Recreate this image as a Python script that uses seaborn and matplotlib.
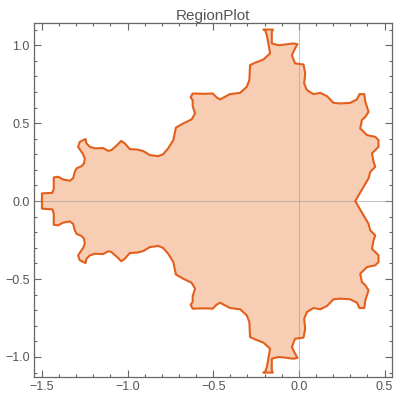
import numpy as np
import pandas as pd
import seaborn as sns
import matplotlib
matplotlib.use("Agg")
import matplotlib.pyplot as plt
from matplotlib.ticker import MultipleLocator

# obere Randkurve der Region, von der linken Spitze im Uhrzeigersinn bis y=0 rechts
x_upper = [-1.5, -1.5, -1.439, -1.431, -1.431, -1.406, -1.377, -1.337, -1.318, -1.308,
           -1.298, -1.269, -1.254, -1.250, -1.260, -1.289, -1.279, -1.252, -1.245, -1.240,
           -1.220, -1.191, -1.143, -1.113, -1.094, -1.061, -1.037, -1.016, -0.987, -0.947,
           -0.909, -0.870, -0.821, -0.792, -0.763, -0.733, -0.718, -0.675, -0.626, -0.606,
           -0.620, -0.620, -0.632, -0.620, -0.558, -0.503, -0.480, -0.460, -0.431, -0.402,
           -0.343, -0.304, -0.289, -0.285, -0.256, -0.207, -0.168, -0.178, -0.187, -0.197,
           -0.207, -0.152, -0.158, -0.158, -0.119, -0.080, -0.032, -0.008, -0.022, -0.041,
           -0.022, 0.027, 0.037, 0.031, 0.047, 0.085, 0.125, 0.164, 0.202, 0.242,
           0.300, 0.339, 0.354, 0.382, 0.388, 0.407, 0.388, 0.368, 0.358, 0.398,
           0.446, 0.465, 0.465, 0.427, 0.436, 0.446, 0.417, 0.407, 0.378, 0.349,
           0.329]
y_upper = [0.0, 0.049, 0.053, 0.081, 0.152, 0.156, 0.139, 0.130, 0.146, 0.188,
           0.210, 0.224, 0.242, 0.274, 0.301, 0.348, 0.380, 0.394, 0.398, 0.370,
           0.348, 0.338, 0.340, 0.322, 0.327, 0.359, 0.386, 0.370, 0.333, 0.331,
           0.321, 0.295, 0.288, 0.301, 0.338, 0.391, 0.471, 0.498, 0.524, 0.562,
           0.609, 0.647, 0.665, 0.690, 0.688, 0.690, 0.665, 0.652, 0.669, 0.686,
           0.694, 0.733, 0.776, 0.872, 0.887, 0.908, 0.947, 1.011, 1.064, 1.096,
           1.1, 1.1, 1.085, 1.011, 1.0, 1.004, 1.011, 1.006, 0.979, 0.936,
           0.883, 0.876, 0.819, 0.754, 0.712, 0.686, 0.694, 0.673, 0.630, 0.626,
           0.630, 0.652, 0.686, 0.686, 0.637, 0.572, 0.540, 0.519, 0.466, 0.423,
           0.412, 0.391, 0.348, 0.306, 0.252, 0.220, 0.188, 0.146, 0.092, 0.038,
           0.0]

# die Region ist spiegelsymmetrisch zur x-Achse
x_lower = x_upper[::-1][1:]
y_lower = [-v for v in y_upper[::-1]][1:]
df = pd.DataFrame({"x": x_upper + x_lower, "y": y_upper + y_lower})

sns.set_style("ticks")
plt.rcParams["font.family"] = ["Liberation Sans", "DejaVu Sans"]

fig = plt.figure(figsize=(3.96, 4.01), dpi=100)
ax = fig.add_axes([0.086, 0.060, 0.904, 0.883])

ax.fill(df["x"], df["y"], color="#F7CDB4", lw=0, zorder=1)
ax.axhline(0, color="#9a9a9a", lw=0.7, alpha=0.6, zorder=2)
ax.axvline(0, color="#9a9a9a", lw=0.7, alpha=0.6, zorder=2)
sns.lineplot(data=df, x="x", y="y", sort=False, estimator=None, color="#E35F1C",
             lw=1.5, ax=ax, zorder=3, solid_joinstyle="round", solid_capstyle="round")
# Kontur schliessen
ax.plot([df["x"].iloc[-1], df["x"].iloc[0]], [df["y"].iloc[-1], df["y"].iloc[0]],
        color="#E35F1C", lw=1.5, zorder=3, solid_capstyle="round")

ax.set_xlim(-1.546, 0.544)
ax.set_ylim(-1.128, 1.143)
ax.set_xlabel("")
ax.set_ylabel("")
ax.xaxis.set_major_locator(MultipleLocator(0.5))
ax.yaxis.set_major_locator(MultipleLocator(0.5))
ax.xaxis.set_minor_locator(MultipleLocator(0.1))
ax.yaxis.set_minor_locator(MultipleLocator(0.1))
ax.xaxis.set_major_formatter(lambda v, p: f"{v:.1f}".replace("-", "\u2212"))
ax.yaxis.set_major_formatter(lambda v, p: f"{v:.1f}".replace("-", "\u2212"))
ax.tick_params(which="both", direction="in", top=True, right=True, color="#666666",
               labelcolor="#555555", labelsize=9, width=0.8)
ax.tick_params(which="major", length=5, pad=3)
ax.tick_params(which="minor", length=2.5)
for s in ax.spines.values():
    s.set_color("#666666")
    s.set_linewidth(0.9)

ax.set_title("RegionPlot", color="#555555", fontsize=11, pad=2)

fig.savefig("out.png", dpi=100)
